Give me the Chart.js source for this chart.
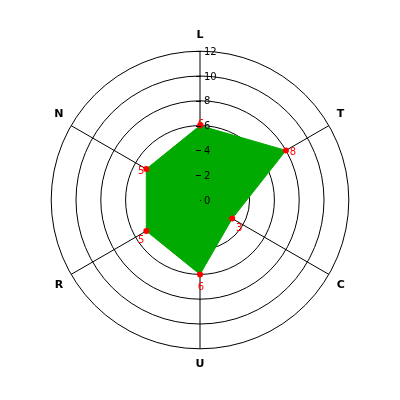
<!DOCTYPE html>
<html>
<head>
<meta charset="utf-8">
<script src="https://cdn.jsdelivr.net/npm/chart.js@4"></script>
<style>
  html, body { margin: 0; padding: 0; background: #fff; }
  #wrap { width: 400px; height: 400px; }
</style>
</head>
<body>
<div id="wrap"><canvas id="radarChart"></canvas></div>
<script>
// Data
const categories = ['L', 'T', 'C', 'U', 'R', 'N'];
const values = [6, 8, 3, 6, 5, 5];
const tickMin = 0;
const tickMax = 12;
const tickStep = 2;

// Draws the red value labels, then the black tick labels on top
const labelPlugin = {
    id: 'labelPlugin',
    afterDatasetsDraw(chart) {
        const ctx = chart.ctx;
        const scale = chart.scales.r;
        const meta = chart.getDatasetMeta(0);

        ctx.save();
        ctx.font = '10px "DejaVu Sans"';
        ctx.fillStyle = '#ff0000';
        ctx.textAlign = 'center';
        ctx.textBaseline = 'middle';
        meta.data.forEach((pt, i) => {
            const a = scale.getIndexAngle(i) - Math.PI / 2;
            ctx.fillText(String(values[i]), pt.x + 7 * Math.cos(a) + 1, pt.y + 7 * Math.sin(a) + 6);
        });

        // tick marks and labels along the first axis
        ctx.strokeStyle = '#000';
        ctx.fillStyle = '#000';
        ctx.lineWidth = 1;
        ctx.textAlign = 'left';
        scale.ticks.forEach((t) => {
            const y = scale.yCenter - scale.getDistanceFromCenterForValue(t.value);
            if (t.value === tickMin) {
                // only a dot at the centre
                ctx.fillRect(scale.xCenter, Math.round(y), 1, 1);
            } else {
                ctx.beginPath();
                ctx.moveTo(scale.xCenter - 4, Math.round(y) + 0.5);
                ctx.lineTo(scale.xCenter + 1, Math.round(y) + 0.5);
                ctx.stroke();
            }
            ctx.fillText(String(t.value), scale.xCenter + 4, y + 1);
        });
        ctx.restore();
    }
};

new Chart(document.getElementById('radarChart'), {
    type: 'radar',
    data: {
        labels: categories,
        datasets: [{
            data: values,
            backgroundColor: '#00aa00',
            borderColor: '#00aa00',
            borderWidth: 1,
            fill: true,
            pointRadius: 3,
            pointBackgroundColor: '#ff0000',
            pointBorderColor: '#ff0000',
            pointBorderWidth: 0
        }]
    },
    options: {
        responsive: true,
        maintainAspectRatio: false,
        animation: false,
        layout: { padding: 29 },
        plugins: {
            legend: { display: false },
            tooltip: { enabled: false }
        },
        scales: {
            r: {
                min: tickMin,
                max: tickMax,
                ticks: { stepSize: tickStep, display: false },
                grid: { circular: true, color: '#000', lineWidth: 1 },
                angleLines: { color: '#000', lineWidth: 1 },
                pointLabels: {
                    color: '#000',
                    padding: 9,
                    font: { family: 'DejaVu Sans', size: 11, weight: 'bold' }
                }
            }
        }
    },
    plugins: [labelPlugin]
});
</script>
</body>
</html>
